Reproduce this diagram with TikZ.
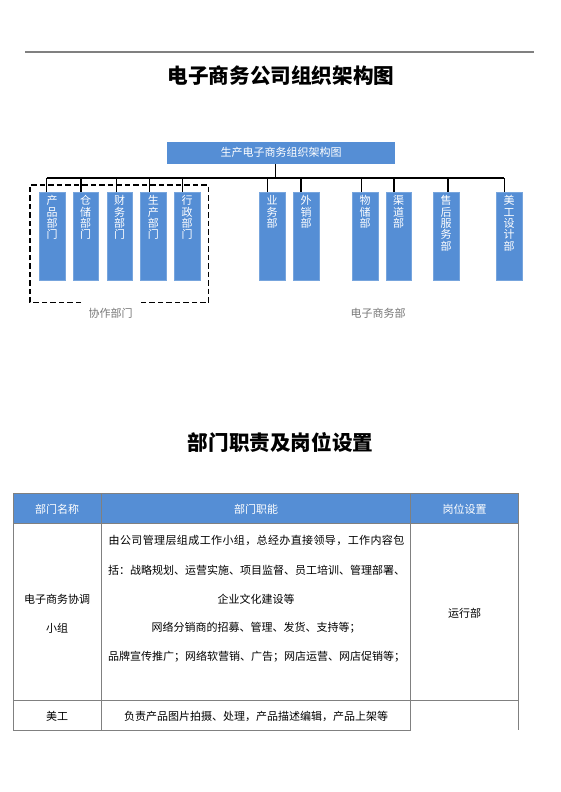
\documentclass[tikz,border=0pt]{standalone}
\usepackage{fontspec}
\setmainfont{Noto Sans CJK SC}
\definecolor{boxblue}{RGB}{85,142,213}
\definecolor{tblline}{RGB}{128,128,128}
\definecolor{lblgray}{RGB}{120,120,120}
\tikzset{
  deptbox/.style={fill=boxblue, draw=boxblue!80!white, line width=0.4pt, minimum width=25.5pt, minimum height=88pt, inner sep=0pt, anchor=north},
  vtext/.style={font=\fontsize{11}{11.3}\selectfont, text=white, align=center, inner sep=0pt, anchor=north},
  conn/.style={line width=1.5pt, black},
  tbl/.style={line width=0.8pt, tblline},
  hdr/.style={font=\fontsize{11}{11}\selectfont, text=white, inner sep=0pt},
  cell/.style={font=\fontsize{11}{11}\selectfont, text=black, inner sep=0pt},
  grouplbl/.style={font=\fontsize{11}{11}\selectfont, text=lblgray, inner sep=0pt},
  titletext/.style={font=\fontsize{20.6}{20.6}\selectfont\bfseries, inner sep=0pt}
}
\begin{document}
\begin{tikzpicture}[x=1pt,y=-1pt]
\useasboundingbox[fill=white] (0,0) rectangle (560,792);
% top rule
\coordinate (ruleL) at (25,52);
\coordinate (ruleR) at (534,52);
\draw[line width=1.3pt, gray] (ruleL) -- (ruleR);
% title
\node[titletext] (title1) at (281,76) {电子商务公司组织架构图};
% top box
\node[fill=boxblue, minimum width=228pt, minimum height=22.5pt, inner sep=0pt, text=white, font=\fontsize{11}{11}\selectfont] (topbox) at (281,152.8) {生产电子商务组织架构图};
% department boxes
\node[deptbox] (b1) at (52,192) {};
\node[deptbox] (b2) at (85.5,192) {};
\node[deptbox] (b3) at (119.5,192) {};
\node[deptbox] (b4) at (153.3,192) {};
\node[deptbox] (b5) at (187,192) {};
\node[deptbox] (b6) at (272,192) {};
\node[deptbox] (b7) at (306,192) {};
\node[deptbox] (b8) at (365,192) {};
\node[deptbox] (b9) at (398.7,192) {};
\node[deptbox] (b10) at (446,192) {};
\node[deptbox] (b11) at (509,192) {};
\node[vtext] (t1) at (52,195.5) {产\\品\\部\\门};
\node[vtext] (t2) at (85.5,195.5) {仓\\储\\部\\门};
\node[vtext] (t3) at (119.5,195.5) {财\\务\\部\\门};
\node[vtext] (t4) at (153.3,195.5) {生\\产\\部\\门};
\node[vtext] (t5) at (187,195.5) {行\\政\\部\\门};
\node[vtext] (t6) at (272,195.5) {业\\务\\部};
\node[vtext] (t7) at (306,195.5) {外\\销\\部};
\node[vtext] (t8) at (365,195.5) {物\\储\\部};
\node[vtext] (t9) at (398.7,195.5) {渠\\道\\部};
\node[vtext] (t10) at (446,195.5) {售\\后\\服\\务\\部};
\node[vtext] (t11) at (509,195.5) {美\\工\\设\\计\\部};
% connectors
\coordinate (barL) at (46.7,178);
\coordinate (barR) at (504.3,178);
\draw[conn] (barL) -- (barR);
\draw[conn] ([xshift=-5.3pt]topbox.south) -- ([xshift=-5.3pt]topbox.south |- barL);
\draw[conn] ([xshift=-5.3pt]b1.north) -- ([xshift=-5.3pt]b1.north |- barL);
\draw[conn] ([xshift=-4.5pt]b2.north) -- ([xshift=-4.5pt]b2.north |- barL);
\draw[conn] ([xshift=-2.8pt]b3.north) -- ([xshift=-2.8pt]b3.north |- barL);
\draw[conn] ([xshift=-4pt]b4.north) -- ([xshift=-4pt]b4.north |- barL);
\draw[conn] ([xshift=-4.3pt]b5.north) -- ([xshift=-4.3pt]b5.north |- barL);
\draw[conn] ([xshift=-4.7pt]b6.north) -- ([xshift=-4.7pt]b6.north |- barL);
\draw[conn] ([xshift=-5pt]b7.north) -- ([xshift=-5pt]b7.north |- barL);
\draw[conn] ([xshift=-3.3pt]b8.north) -- ([xshift=-3.3pt]b8.north |- barL);
\draw[conn] ([xshift=-4.7pt]b9.north) -- ([xshift=-4.7pt]b9.north |- barL);
\draw[conn] ([xshift=2pt]b10.north) -- ([xshift=2pt]b10.north |- barL);
\draw[conn] ([xshift=-4.7pt]b11.north) -- ([xshift=-4.7pt]b11.north |- barL);
% dashed group frame
\draw[line width=1.4pt, dash pattern=on 5.5pt off 3pt] (81,302.7) -- (30,302.7) -- (30,185) -- (208.3,185) -- (208.3,302.7) -- (139,302.7);
% group labels (clipped at bottom as in the reference)
\begin{scope}
\clip (0,290) rectangle (560,317.5);
\node[grouplbl] (g1) at (110.5,313.5) {协作部门};
\node[grouplbl] (g2) at (378,313.5) {电子商务部};
\end{scope}
% second title
\node[titletext] (title2) at (280.5,443) {部门职责及岗位设置};
% table
\fill[boxblue] (13,493.3) rectangle (518.3,523.3);
\draw[tbl] (13,493.3) -- (518.3,493.3);
\draw[tbl] (13,523.3) -- (518.3,523.3);
\draw[tbl] (13,700) -- (518.3,700);
\draw[tbl] (13,730) -- (410.7,730);
\draw[tbl] (13,493.3) -- (13,730);
\draw[tbl] (101,493.3) -- (101,730);
\draw[tbl] (410.7,493.3) -- (410.7,730);
\draw[tbl] (518.3,493.3) -- (518.3,730);
\node[hdr] (h1) at (57,509) {部门名称};
\node[hdr] (h2) at (256,509) {部门职能};
\node[hdr] (h3) at (464.5,509) {岗位设置};
\node[cell] (c11a) at (57,599) {电子商务协调};
\node[cell] (c11b) at (57,628) {小组};
\node[cell] (c12a) at (256.5,540) {\addfontfeature{LetterSpace=3.5}由公司管理层组成工作小组，总经办直接领导，工作内容包};
\node[cell] (c12b) at (256.5,570) {括：战略规划、运营实施、项目监督、员工培训、管理部署、};
\node[cell] (c12c) at (256,599) {企业文化建设等};
\node[cell] (c12d) at (256,628) {网络分销商的招募、管理、发货、支持等；};
\node[cell] (c12e) at (256.5,657) {品牌宣传推广；网络软营销、广告；网店运营、网店促销等；};
\node[cell] (c13) at (464.5,613) {运行部};
\node[cell] (c21) at (57,716) {美工};
\node[cell] (c22) at (256,716) {负责产品图片拍摄、处理，产品描述编辑，产品上架等};
\end{tikzpicture}
\end{document}
